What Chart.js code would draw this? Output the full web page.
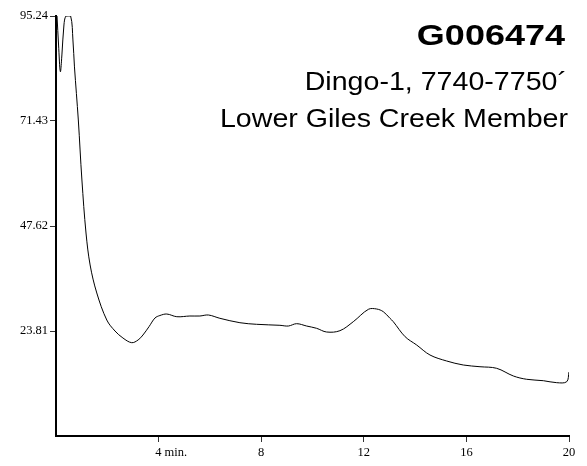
<!DOCTYPE html>
<html><head><meta charset="utf-8">
<script src="https://cdn.jsdelivr.net/npm/chart.js@4/dist/chart.umd.min.js"></script>
<style>html,body{margin:0;padding:0;background:#fff;}#wrap{width:587px;height:466px;}</style>
</head><body><div id="wrap"><canvas id="c" width="587" height="466"></canvas></div>
<script>
const times  = [0.04, 0.10, 0.17, 0.23, 0.31, 0.39, 0.57, 0.66, 0.72, 0.87, 1.01, 1.17, 1.33, 1.59, 1.98, 2.30, 2.61, 2.95, 3.20, 3.39, 3.63, 3.86, 4.05, 4.32, 4.71, 5.22, 5.61, 5.94, 6.39, 7.17, 7.82, 8.73, 9.06, 9.38, 9.77, 10.16, 10.55, 11.07, 11.59, 12.18, 12.50, 12.76, 13.02, 13.15, 13.61, 14.06, 14.58, 15.23, 15.88, 16.53, 17.18, 17.83, 18.35, 19.00, 19.52, 19.91, 20.00];
const signal = [95.24, 88.66, 82.61, 86.40, 93.20, 95.24, 95.24, 89.80, 83.70, 71.66, 58.05, 46.03, 38.78, 32.43, 26.30, 23.81, 22.22, 21.16, 21.77, 22.90, 24.83, 26.76, 27.32, 27.66, 27.05, 27.21, 27.21, 27.44, 26.69, 25.69, 25.33, 25.10, 24.94, 25.47, 24.94, 24.42, 23.58, 23.88, 25.92, 28.73, 28.80, 28.19, 26.69, 25.92, 22.52, 20.64, 18.37, 17.01, 16.10, 15.71, 15.35, 13.61, 12.86, 12.54, 12.09, 12.31, 14.51];
const yTicks = [23.81, 47.62, 71.43, 95.24];
const xTicks = [4, 8, 12, 16, 20];
const titleLines = ['G006474', 'Dingo-1, 7740-7750\u00B4', 'Lower Giles Creek Member'];

function drawStretched(ctx, text, xRight, yBase, font, sx) {
  ctx.save();
  ctx.font = font;
  ctx.fillStyle = '#000';
  ctx.textAlign = 'right';
  ctx.textBaseline = 'alphabetic';
  ctx.translate(xRight, yBase);
  ctx.scale(sx, 1);
  ctx.fillText(text, 0, 0);
  ctx.restore();
}
const titlePlugin = {
  id: 'titles',
  afterDraw(chart) {
    const ctx = chart.ctx;
    drawStretched(ctx, titleLines[0], 565, 45, 'bold 30px "Liberation Sans"', 1.2);
    drawStretched(ctx, titleLines[1], 567, 90, '26px "Liberation Sans"', 1.1);
    drawStretched(ctx, titleLines[2], 568, 127, '26px "Liberation Sans"', 1.1);
  }
};

const tickFont = {family: '"Liberation Serif", "Times New Roman", serif', size: 12.5};
new Chart(document.getElementById('c'), {
  type: 'line',
  data: {
    datasets: [{
      data: times.map((t, i) => ({x: t, y: signal[i]})),
      borderColor: '#000',
      borderWidth: 1,
      pointRadius: 0,
      tension: 0.35,
      fill: false
    }]
  },
  options: {
    responsive: false,
    animation: false,
    devicePixelRatio: 1,
    layout: {padding: {top: 16, right: 18, left: 0, bottom: 0}},
    plugins: {legend: {display: false}, tooltip: {enabled: false}, title: {display: false}},
    scales: {
      x: {
        type: 'linear', min: 0, max: 20,
        border: {display: true, color: '#000', width: 2},
        grid: {drawOnChartArea: false, drawTicks: true, tickLength: 6, color: '#333', lineWidth: 1},
        ticks: {
          color: '#000', font: tickFont, padding: 3, maxRotation: 0, autoSkip: false,
          callback: v => v === 4 ? '        4 min.' : String(v)
        },
        afterBuildTicks: s => { s.ticks = xTicks.map(v => ({value: v})); },
        afterFit: s => { s.height = 30; }
      },
      y: {
        min: 0, max: 95.24,
        border: {display: true, color: '#000', width: 2},
        grid: {drawOnChartArea: false, drawTicks: true, tickLength: 6, color: '#333', lineWidth: 1},
        ticks: {color: '#000', font: tickFont, padding: 2, autoSkip: false, callback: v => v.toFixed(2)},
        afterBuildTicks: s => { s.ticks = yTicks.map(v => ({value: v})); },
        afterFit: s => { s.width = 56; }
      }
    }
  },
  plugins: [titlePlugin]
});
</script>
</body></html>
